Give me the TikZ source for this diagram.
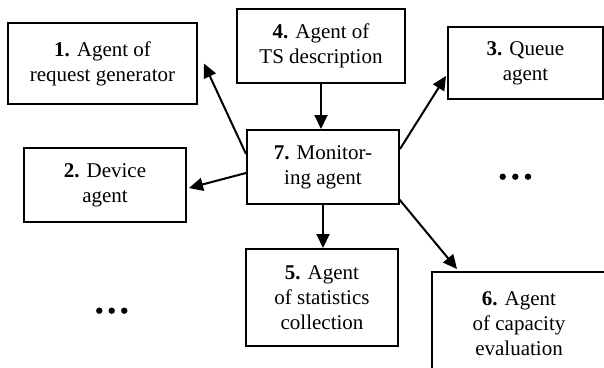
\documentclass[tikz,border=0pt]{standalone}
\usepackage{fontspec}
\setmainfont{Liberation Serif}
\usetikzlibrary{arrows.meta}
\begin{document}
\begin{tikzpicture}[x=1pt,y=-1pt,
  agent/.style={draw,line width=2pt,inner sep=0pt,align=center,
    font=\fontsize{21}{25}\selectfont},
  link/.style={line width=2pt,-{Triangle[length=14pt,width=13pt]}}]
\clip (0,0) rectangle (604,367);
\fill[white] (0,0) rectangle (604,367);
\node[agent,minimum width=189pt,minimum height=81pt] (b1) at (102.5,63.5) {\textbf{1.} Agent of\\request generator};
\node[agent,minimum width=168pt,minimum height=74pt] (b4) at (321,46) {\textbf{4.} Agent of\\TS description};
\node[agent,minimum width=155pt,minimum height=72pt] (b3) at (525.5,63) {\textbf{3.} Queue\\agent};
\node[agent,minimum width=152pt,minimum height=74pt] (b7) at (323,167) {\textbf{7.} Monitor-\\ing agent};
\node[agent,minimum width=162pt,minimum height=74pt] (b2) at (105,185) {\textbf{2.} Device\\agent};
\node[agent,minimum width=152pt,minimum height=97pt] (b5) at (322,297.5) {\textbf{5.} Agent\\of statistics\\collection};
\node[agent,minimum width=174pt,minimum height=104pt] (b6) at (519,324) {\textbf{6.} Agent\\of capacity\\evaluation};
\draw[link] ([yshift=-25pt]b7.north west) -- ([xshift=6pt]b1.east);
\draw[link] ([yshift=-6pt]b7.west) -- ([xshift=2pt,yshift=-3pt]b2.east);
\draw[link] (b4.south) -- (b4.south |- b7.north);
\draw[link] ([yshift=-20pt]b7.north east) -- ([xshift=-1pt,yshift=24pt]b3.south west);
\draw[link] (b7.south) -- (b7.south |- b5.north);
\draw[link] ([yshift=6pt,xshift=-1pt]b7.south east) -- ([xshift=26pt,yshift=2pt]b6.north west);
\foreach \x in {502.7,515.3,528} \fill (\x,176.7) circle (3.2pt);
\foreach \x in {99.3,111.7,124.3} \fill (\x,310.7) circle (3.2pt);
\end{tikzpicture}
\end{document}
